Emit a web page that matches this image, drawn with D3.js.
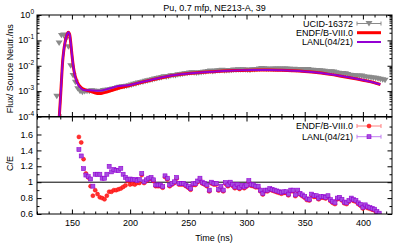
<!DOCTYPE html>
<html><head><meta charset="utf-8">
<script src="https://cdn.jsdelivr.net/npm/d3@7"></script>
<style>body{margin:0;background:#fff}svg{display:block}text{font-family:"Liberation Sans",Arial,sans-serif;fill:#000}</style>
</head><body><svg id="c" width="407" height="244"></svg>
<script>
const title = "Pu, 0.7 mfp, NE213-A, 39";
const seriesNames = ["UCID-16372", "ENDF/B-VIII.0", "LANL(04/21)"];
const xLabel = "Time (ns)";
const yTopLabel = "Flux/ Source Neutr./ns";
const yBotLabel = "C/E";

// Experiment (log10 of flux), times in ns
const expTime = [137,139,141,143,145,147,149,151,153,155,157,159,161,163,165,167,169,171,173,175,177,179,181,183,185,187,189,191,193,195,197,199,201,203,205,207,209,211,213,215,217,219,221,223,225,227,229,231,233,235,237,239,241,243,245,247,249,251,253,255,257,259,261,263,265,267,269,271,273,275,277,279,281,283,285,287,289,291,293,295,297,299,301,303,305,307,309,311,313,315,317,319,321,323,325,327,329,331,333,335,337,339,341,343,345,347,349,351,353,355,357,359,361,363,365,367,369,371,373,375,377,379,381,383,385,387,389,391,393,395,397,399,401,403,405,407,409,411,413,415,417,419];
const expLog10 = [-3.2,-1.1,-0.8,-0.78,-0.95,-1.25,-2.0,-2.38,-2.65,-2.9,-3.0,-3.04,-3.01,-3.0,-3.0,-2.98,-2.99,-3.02,-3.01,-3.0,-2.97,-2.96,-2.95,-2.94,-2.91,-2.89,-2.86,-2.84,-2.82,-2.81,-2.80,-2.78,-2.755,-2.73,-2.705,-2.68,-2.655,-2.64,-2.61,-2.59,-2.57,-2.55,-2.52,-2.50,-2.48,-2.46,-2.43,-2.44,-2.42,-2.39,-2.38,-2.38,-2.355,-2.34,-2.33,-2.31,-2.30,-2.28,-2.27,-2.28,-2.285,-2.28,-2.265,-2.25,-2.24,-2.22,-2.205,-2.225,-2.215,-2.19,-2.19,-2.175,-2.195,-2.19,-2.185,-2.18,-2.165,-2.17,-2.155,-2.16,-2.155,-2.16,-2.17,-2.175,-2.15,-2.15,-2.14,-2.125,-2.105,-2.115,-2.125,-2.13,-2.13,-2.125,-2.12,-2.12,-2.12,-2.125,-2.125,-2.125,-2.135,-2.15,-2.13,-2.15,-2.15,-2.145,-2.14,-2.14,-2.14,-2.175,-2.175,-2.185,-2.18,-2.19,-2.205,-2.21,-2.235,-2.24,-2.23,-2.24,-2.27,-2.295,-2.31,-2.305,-2.315,-2.345,-2.37,-2.38,-2.395,-2.40,-2.40,-2.40,-2.43,-2.445,-2.45,-2.465,-2.48,-2.49,-2.51,-2.53,-2.55,-2.57];
const expRelErr = 0.08;

// Calculations (log10 of flux)
const calcTime = [138,139,140,141,142,143,144,145,146,147,148,149,150,151,152,154,156,158,160,163,166,169,172,175,178,182,186,190,195,200,205,210,220,230,240,250,260,270,280,290,300,310,320,330,340,350,360,370,380,390,400,410,415];
const endfLog10 = [-4.6,-4.1,-3.4,-2.6,-1.85,-1.4,-1.1,-0.88,-0.74,-0.68,-0.76,-1.1,-1.55,-1.95,-2.25,-2.58,-2.76,-2.86,-2.92,-2.97,-3.01,-3.06,-3.09,-3.09,-3.06,-3.01,-2.95,-2.89,-2.83,-2.77,-2.71,-2.65,-2.54,-2.44,-2.36,-2.31,-2.27,-2.24,-2.21,-2.19,-2.18,-2.17,-2.17,-2.18,-2.20,-2.23,-2.27,-2.33,-2.40,-2.48,-2.57,-2.67,-2.74];
const lanlLog10 = [-4.6,-4.1,-3.4,-2.6,-1.85,-1.4,-1.1,-0.88,-0.74,-0.68,-0.76,-1.1,-1.55,-1.95,-2.26,-2.62,-2.80,-2.90,-2.96,-2.97,-2.97,-2.98,-2.99,-2.98,-2.95,-2.90,-2.85,-2.80,-2.78,-2.76,-2.70,-2.64,-2.535,-2.435,-2.355,-2.305,-2.265,-2.235,-2.205,-2.185,-2.175,-2.165,-2.165,-2.175,-2.195,-2.225,-2.265,-2.325,-2.395,-2.475,-2.565,-2.67,-2.74];

// C/E ratios
const ceTime = [156,158,160,162,164,166,168,170,172,174,176,178,180,182,184,186,188,190,192,194,196,198,200,202,204,206,208,210,212,214,216,218,220,222,224,226,228,230,232,234,236,238,240,242,244,246,248,250,252,254,256,258,260,262,264,266,268,270,272,274,276,278,280,282,284,286,288,290,292,294,296,298,300,302,304,306,308,310,312,314,316,318,320,322,324,326,328,330,332,334,336,338,340,342,344,346,348,350,352,354,356,358,360,362,364,366,368,370,372,374,376,378,380,382,384,386,388,390,392,394,396,398,400,402,404,406,408,410,412,414];
const ceEndf = [1.57,1.50,1.29,1.11,1.06,0.95,0.83,0.90,0.85,0.81,0.80,0.785,0.83,0.88,0.88,0.90,0.90,0.91,0.92,0.94,0.96,1.015,0.97,0.98,0.97,0.99,0.99,1.09,0.99,1.015,1.035,1.045,1.015,0.95,0.95,0.95,0.93,1.065,1.035,0.95,0.97,0.99,1.045,0.97,0.97,0.97,0.95,0.93,0.905,0.965,0.965,1.0,1.035,0.985,0.97,0.95,0.885,0.985,0.97,0.97,0.895,0.935,0.885,0.98,0.95,0.985,0.955,0.925,0.955,0.915,0.945,0.925,0.945,1.005,0.955,0.95,0.935,0.935,0.885,0.845,0.885,0.885,0.905,0.895,0.885,0.875,0.865,0.855,0.865,0.865,0.835,0.885,0.885,0.825,0.885,0.845,0.825,0.805,0.775,0.77,0.835,0.815,0.815,0.785,0.805,0.805,0.795,0.815,0.765,0.74,0.725,0.785,0.795,0.77,0.735,0.725,0.755,0.785,0.765,0.755,0.725,0.705,0.67,0.70,0.675,0.665,0.655,0.645,0.615,0.60];
const ceLanl = [1.41,1.33,1.17,1.09,1.07,1.04,0.95,1.10,1.10,1.10,1.05,1.05,1.10,1.20,1.13,1.16,1.15,1.145,1.175,1.10,1.06,1.035,1.04,1.03,1.035,1.02,1.035,1.11,1.005,1.03,1.05,1.06,1.03,0.965,0.965,0.965,0.945,1.08,1.05,0.965,0.985,1.005,1.06,0.985,0.985,0.985,0.965,0.945,0.92,0.98,0.98,1.015,1.05,1.0,0.985,0.965,0.9,1.0,0.985,0.985,0.91,0.95,0.9,0.995,0.965,1.0,0.97,0.94,0.97,0.93,0.96,0.94,0.96,1.02,0.97,0.965,0.95,0.95,0.9,0.86,0.9,0.9,0.92,0.91,0.9,0.89,0.88,0.87,0.88,0.88,0.85,0.9,0.9,0.84,0.9,0.86,0.84,0.82,0.79,0.785,0.85,0.83,0.83,0.8,0.82,0.82,0.81,0.83,0.78,0.755,0.74,0.8,0.81,0.785,0.75,0.74,0.77,0.8,0.78,0.77,0.74,0.72,0.685,0.715,0.69,0.68,0.67,0.66,0.63,0.61];

const xTicks = [150,200,250,300,350,400];
const yTopExponents = [0,-1,-2,-3,-4];
const yBotTicks = [0.6,0.8,1,1.2,1.4,1.6];
const yBotTickLabels = ["0.6","0.8","1","1.2","1.4","1.6"];

// ---- layout ----
const L = 37, R = 392, T1 = 15, B1 = 116.5, T2 = 117, B2 = 214;
const FS = 9;
const svg = d3.select("#c");

const x = d3.scaleLinear().domain([120, 425]).range([L, R]);
const y1 = d3.scaleLog().domain([1e-4, 1]).range([B1, T1]);
const y2 = d3.scaleLinear().domain([0.6, 1.82]).range([B2, T2]);

const gray = "#8a8a8a", red = "#ff0000", purple = "#9400d3";

const defs = svg.append("defs");
defs.append("clipPath").attr("id", "clipTop").append("rect")
  .attr("x", L).attr("y", T1).attr("width", R - L).attr("height", B1 - T1);
defs.append("clipPath").attr("id", "clipBot").append("rect")
  .attr("x", L).attr("y", T2).attr("width", R - L).attr("height", B2 - T2);

// title
svg.append("text").attr("x", (L + R) / 2).attr("y", 11).attr("text-anchor", "middle")
  .attr("font-size", FS).text(title);

// ---- axes helpers ----
const xMinor = d3.range(120, 426, 10).filter(v => xTicks.indexOf(v) < 0);
function xAxes(yB, yT, labels) {
  const gb = svg.append("g").attr("transform", `translate(0,${yB})`);
  gb.call(d3.axisBottom(x).tickValues(xTicks).tickSize(-4.5).tickPadding(6)
    .tickFormat(labels ? d3.format("d") : ""));
  gb.append("g").call(d3.axisBottom(x).tickValues(xMinor).tickSize(-2.5).tickFormat(""));
  const gt = svg.append("g").attr("transform", `translate(0,${yT})`);
  gt.call(d3.axisTop(x).tickValues(xTicks).tickSize(-4.5).tickFormat(""));
  gt.append("g").call(d3.axisTop(x).tickValues(xMinor).tickSize(-2.5).tickFormat(""));
  [gb, gt].forEach(g => { g.selectAll(".domain").remove();
    g.selectAll("text").attr("font-size", FS).attr("font-family", '"Liberation Sans",Arial,sans-serif'); });
}
xAxes(B1, T1, false);
xAxes(B2, T2, true);

// top y axis (log)
const decades = yTopExponents.map(e => Math.pow(10, e));
const logMinor = [];
[-4, -3, -2, -1].forEach(e => { for (let m = 2; m <= 9; m++) logMinor.push(m * Math.pow(10, e)); });
function yAxes(scale, major, minor) {
  const gl = svg.append("g").attr("transform", `translate(${L},0)`);
  gl.call(d3.axisLeft(scale).tickValues(major).tickSize(-4.5).tickFormat(""));
  gl.append("g").call(d3.axisLeft(scale).tickValues(minor).tickSize(-2.5).tickFormat(""));
  const gr = svg.append("g").attr("transform", `translate(${R},0)`);
  gr.call(d3.axisRight(scale).tickValues(major).tickSize(-4.5).tickFormat(""));
  gr.append("g").call(d3.axisRight(scale).tickValues(minor).tickSize(-2.5).tickFormat(""));
  [gl, gr].forEach(g => g.selectAll(".domain").remove());
}
yAxes(y1, decades, logMinor);
yAxes(y2, yBotTicks, [0.7, 0.9, 1.1, 1.3, 1.5, 1.7]);

// log labels
yTopExponents.forEach(e => {
  const t = svg.append("text").attr("x", L - 3).attr("y", y1(Math.pow(10, e)) + 3)
    .attr("text-anchor", "end").attr("font-size", FS);
  t.append("tspan").text("10");
  t.append("tspan").attr("dy", -4).attr("font-size", 6.5).text(String(e));
});
yBotTicks.forEach((v, i) => {
  svg.append("text").attr("x", L - 4).attr("y", y2(v) + 3.2).attr("text-anchor", "end")
    .attr("font-size", FS).text(yBotTickLabels[i]);
});

// axis labels
svg.append("text").attr("transform", `translate(13,${(T1 + B1) / 2 + 3}) rotate(-90)`)
  .attr("text-anchor", "middle").attr("font-size", FS).text(yTopLabel);
svg.append("text").attr("transform", `translate(13,${(T2 + B2) / 2 - 2}) rotate(-90)`)
  .attr("text-anchor", "middle").attr("font-size", FS).text(yBotLabel);
svg.append("text").attr("x", 214).attr("y", 241).attr("text-anchor", "middle")
  .attr("font-size", FS).text(xLabel);

// ---- top panel data ----
const topG = svg.append("g").attr("clip-path", "url(#clipTop)");
const tri = "M-3.5,-2.4L3.5,-2.4L0,3Z";
const expPts = expTime.map((t, i) => ({ t, v: Math.pow(10, expLog10[i]) }));
topG.selectAll("line.expe").data(expPts).join("line").attr("class", "expe")
  .attr("x1", d => x(d.t)).attr("x2", d => x(d.t))
  .attr("y1", d => y1(d.v * (1 - expRelErr))).attr("y2", d => y1(d.v * (1 + expRelErr)))
  .attr("stroke", gray).attr("stroke-width", 1);
topG.selectAll("path.exp").data(expPts).join("path").attr("class", "exp")
  .attr("transform", d => `translate(${x(d.t)},${y1(d.v)})`)
  .attr("d", tri).attr("fill", gray);
const line1 = d3.line().x(d => x(d.t)).y(d => y1(d.v)).curve(d3.curveMonotoneX);
topG.append("path").datum(calcTime.map((t, i) => ({ t, v: Math.pow(10, endfLog10[i]) })))
  .attr("d", line1).attr("fill", "none").attr("stroke", red).attr("stroke-width", 3);
topG.append("path").datum(calcTime.map((t, i) => ({ t, v: Math.pow(10, lanlLog10[i]) })))
  .attr("d", line1).attr("fill", "none").attr("stroke", purple).attr("stroke-width", 2);

// ---- bottom panel data ----
const botG = svg.append("g").attr("clip-path", "url(#clipBot)");
botG.append("line").attr("x1", L).attr("x2", R).attr("y1", y2(1)).attr("y2", y2(1))
  .attr("stroke", "#000").attr("stroke-width", 1);
const ceErr = 0.015;
const endfPts = ceTime.map((t, i) => ({ t, v: ceEndf[i] }));
const lanlPts = ceTime.map((t, i) => ({ t, v: ceLanl[i] }));
botG.selectAll("line.ee").data(endfPts).join("line").attr("class", "ee")
  .attr("x1", d => x(d.t)).attr("x2", d => x(d.t))
  .attr("y1", d => y2(d.v - ceErr)).attr("y2", d => y2(d.v + ceErr))
  .attr("stroke", "#ff8080").attr("stroke-width", 1);
botG.selectAll("circle.e").data(endfPts).join("circle").attr("class", "e")
  .attr("cx", d => x(d.t)).attr("cy", d => y2(d.v)).attr("r", 2)
  .attr("fill", "#ff3030").attr("stroke", "#ff0000").attr("stroke-width", 0.5);
botG.selectAll("line.le").data(lanlPts).join("line").attr("class", "le")
  .attr("x1", d => x(d.t)).attr("x2", d => x(d.t))
  .attr("y1", d => y2(d.v - ceErr)).attr("y2", d => y2(d.v + ceErr))
  .attr("stroke", "#c080f0").attr("stroke-width", 1);
botG.selectAll("rect.l").data(lanlPts).join("rect").attr("class", "l")
  .attr("x", d => x(d.t) - 2).attr("y", d => y2(d.v) - 2).attr("width", 4).attr("height", 4)
  .attr("fill", "#a64de0").attr("stroke", "#9400d3").attr("stroke-width", 0.6);

// frames
svg.append("rect").attr("x", L).attr("y", T1).attr("width", R - L).attr("height", B1 - T1)
  .attr("fill", "none").attr("stroke", "#000").attr("stroke-width", 1);
svg.append("rect").attr("x", L).attr("y", T2).attr("width", R - L).attr("height", B2 - T2)
  .attr("fill", "none").attr("stroke", "#000").attr("stroke-width", 1);

// ---- legends ----
const lx0 = 357, lx1 = 381, ltx = 353;
const topRows = [23.5, 32.7, 42];
topRows.forEach((yy, i) => {
  svg.append("text").attr("x", ltx).attr("y", yy + 3.2).attr("text-anchor", "end")
    .attr("font-size", FS).text(seriesNames[i]);
});
svg.append("line").attr("x1", lx0).attr("x2", lx1).attr("y1", topRows[0]).attr("y2", topRows[0])
  .attr("stroke", gray).attr("stroke-width", 1);
[lx0, lx1].forEach(xx => svg.append("line").attr("x1", xx).attr("x2", xx)
  .attr("y1", topRows[0] - 2).attr("y2", topRows[0] + 2).attr("stroke", gray));
svg.append("path").attr("transform", `translate(${(lx0 + lx1) / 2},${topRows[0]})`)
  .attr("d", tri).attr("fill", gray);
svg.append("line").attr("x1", lx0).attr("x2", lx1).attr("y1", topRows[1]).attr("y2", topRows[1])
  .attr("stroke", red).attr("stroke-width", 3);
svg.append("line").attr("x1", lx0).attr("x2", lx1).attr("y1", topRows[2]).attr("y2", topRows[2])
  .attr("stroke", purple).attr("stroke-width", 2);

const botRows = [126, 136.7];
botRows.forEach((yy, i) => {
  svg.append("text").attr("x", ltx).attr("y", yy + 3.2).attr("text-anchor", "end")
    .attr("font-size", FS).text(seriesNames[i + 1]);
  const c = i === 0 ? "#ff8080" : "#c080f0";
  svg.append("line").attr("x1", lx0).attr("x2", lx1).attr("y1", yy).attr("y2", yy)
    .attr("stroke", c).attr("stroke-width", 1);
  [lx0, lx1].forEach(xx => svg.append("line").attr("x1", xx).attr("x2", xx)
    .attr("y1", yy - 2).attr("y2", yy + 2).attr("stroke", c));
});
svg.append("circle").attr("cx", (lx0 + lx1) / 2).attr("cy", botRows[0]).attr("r", 2)
  .attr("fill", "#ff3030").attr("stroke", "#ff0000").attr("stroke-width", 0.5);
svg.append("rect").attr("x", (lx0 + lx1) / 2 - 2).attr("y", botRows[1] - 2).attr("width", 4).attr("height", 4)
  .attr("fill", "#a64de0").attr("stroke", "#9400d3").attr("stroke-width", 0.6);
</script></body></html>
